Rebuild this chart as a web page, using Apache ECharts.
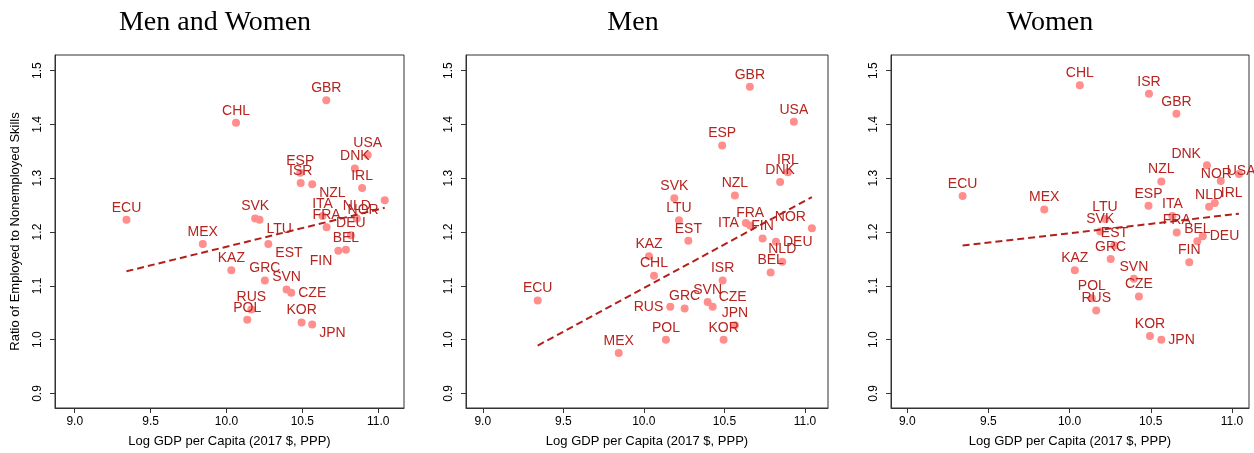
<!DOCTYPE html>
<html lang="en">
<head>
<meta charset="UTF-8">
<title>Employed vs Nonemployed Skills</title>
<script src="https://cdn.jsdelivr.net/npm/echarts@6/dist/echarts.min.js"></script>
</head>
<body style="margin:0;">
<div id="chart" style="width:1254px;height:453px;"></div>
<script>
// country codes and log GDP per capita (shared by all panels)
var countries = ['ECU','MEX','KAZ','CHL','POL','RUS','SVK','LTU','GRC','EST','SVN','CZE','ESP','ISR',
                 'KOR','NZL','JPN','ITA','FRA','GBR','FIN','BEL','DEU','DNK','NLD','IRL','USA','NOR'];
var logGdp = [9.341, 9.844, 10.032, 10.063, 10.137, 10.164, 10.189, 10.218, 10.253, 10.276, 10.396, 10.427, 10.486, 10.489,
              10.495, 10.565, 10.565, 10.633, 10.66, 10.658, 10.737, 10.787, 10.82, 10.846, 10.859, 10.894, 10.931, 11.043];

// ratio of employed to nonemployed skills
var ratioAll = [1.223, 1.178, 1.129, 1.403, 1.037, 1.056, 1.225, 1.223, 1.110, 1.178, 1.093, 1.087, 1.310, 1.291,
                1.032, 1.289, 1.028, 1.230, 1.209, 1.445, 1.165, 1.167, 1.194, 1.318, 1.225, 1.282, 1.343, 1.259];
var ratioMen = [1.073, 0.975, 1.155, 1.119, 1.000, 1.061, 1.263, 1.222, 1.058, 1.184, 1.070, 1.061, 1.361, 1.110,
                1.000, 1.268, 1.027, 1.217, 1.212, 1.470, 1.188, 1.125, 1.182, 1.293, 1.145, 1.311, 1.405, 1.207];
var ratioWomen = [1.267, 1.242, 1.129, 1.473, 1.077, 1.054, 1.201, 1.224, 1.150, 1.175, 1.113, 1.080, 1.249, 1.457,
                  1.007, 1.294, 1.000, 1.230, 1.199, 1.420, 1.144, 1.183, 1.192, 1.324, 1.247, 1.254, 1.295, 1.308];

// linear fit end points
var fitX = [9.341, 11.043];
var fitAll = [1.127, 1.245];
var fitMen = [0.989, 1.265];
var fitWomen = [1.175, 1.234];

var panelTitles = ['Men and Women', 'Men', 'Women'];
var xTicks = [9.0, 9.5, 10.0, 10.5, 11.0];
var yTicks = [0.9, 1.0, 1.1, 1.2, 1.3, 1.4, 1.5];

// label placement (default above the marker)
var labelPos = [
    {NZL: 'r4', LTU: 'r4', EST: 'r4', JPN: 'r4', CZE: 'r', NOR: 'l8', FIN: 'l8'},
    {ITA: 'l', NOR: 'l10', DEU: 'r', RUS: 'l', CZE: 'r2'},
    {DNK: 'l10', NOR: 'l', USA: 'r2', IRL: 'r2', DEU: 'r', JPN: 'r'}
];

var gridLeft = [55, 466, 891];
var gridWidth = [349, 362, 358];
var xRange = [[8.87, 11.17], [8.896, 11.143], [8.90, 11.105]];
var titleCenter = [210, 628, 1045];

var dotColor = '#FF8E8C';
var labColor = '#B5241F';
var lineColor = '#B3201C';

function labelFor(code) {
    var base = {show: true, formatter: '{b}', color: labColor, fontSize: 14, fontFamily: 'Liberation Sans'};
    if (!code) return Object.assign(base, {position: 'top', distance: 1});
    if (code === 'r') return Object.assign(base, {position: 'right', distance: 3});
    if (code === 'r4') return Object.assign(base, {position: 'right', distance: 3, offset: [0, 9]});
    if (code === 'r2') return Object.assign(base, {position: 'right', distance: 2, offset: [0, -10]});
    if (code === 'l') return Object.assign(base, {position: 'left', distance: 3});
    if (code === 'l8') return Object.assign(base, {position: 'left', distance: 2, offset: [0, 10]});
    if (code === 'l10') return Object.assign(base, {position: 'left', distance: 2, offset: [0, -11]});
}

var ratios = [ratioAll, ratioMen, ratioWomen];
var fits = [fitAll, fitMen, fitWomen];

var grids = [], xAxes = [], yAxes = [], series = [], titles = [];

for (var p = 0; p < 3; p++) {
    grids.push({left: gridLeft[p], width: gridWidth[p], top: 55, height: 353,
                show: true, borderColor: '#333', borderWidth: 1, backgroundColor: '#fff'});
    titles.push({text: panelTitles[p], left: titleCenter[p], top: 4, textAlign: 'center',
                 textStyle: {fontFamily: 'Liberation Serif', fontSize: 28, fontWeight: 'normal', color: '#000'}});
    xAxes.push({
        type: 'value', gridIndex: p, min: xRange[p][0], max: xRange[p][1],
        name: 'Log GDP per Capita (2017 $, PPP)', nameLocation: 'middle', nameGap: 27,
        nameTextStyle: {fontSize: 13, color: '#000', fontFamily: 'Liberation Sans'},
        axisLine: {show: true, lineStyle: {color: '#333', width: 1}},
        axisTick: {show: true, length: 5, customValues: xTicks, lineStyle: {color: '#333'}},
        axisLabel: {customValues: xTicks, margin: 8, fontSize: 12, color: '#000', fontFamily: 'Liberation Sans',
                    formatter: function (v) { return v.toFixed(1); }},
        splitLine: {show: false}
    });
    yAxes.push({
        type: 'value', gridIndex: p, min: 0.873, max: 1.529,
        name: p === 0 ? 'Ratio of Employed to Nonemployed Skills' : '',
        nameLocation: 'middle', nameGap: 33,
        nameTextStyle: {fontSize: 13, color: '#000', fontFamily: 'Liberation Sans'},
        axisLine: {show: true, lineStyle: {color: '#333', width: 1}},
        axisTick: {show: true, length: 5, customValues: yTicks, lineStyle: {color: '#333'}},
        axisLabel: {customValues: yTicks, rotate: 90, margin: 11, fontSize: 12, color: '#000', fontFamily: 'Liberation Sans',
                    formatter: function (v) { return v.toFixed(1); }},
        splitLine: {show: false}
    });

    var pts = countries.map(function (c, i) {
        return {name: c, value: [logGdp[i], ratios[p][i]], label: labelFor(labelPos[p][c])};
    });
    series.push({
        type: 'scatter', xAxisIndex: p, yAxisIndex: p, symbolSize: 8,
        itemStyle: {color: dotColor, opacity: 1},
        data: pts, z: 2, silent: true
    });
    series.push({
        type: 'line', xAxisIndex: p, yAxisIndex: p, symbol: 'none', z: 3, silent: true,
        lineStyle: {color: lineColor, width: 2, type: [7, 4]},
        data: fitX.map(function (x, i) { return [x, fits[p][i]]; })
    });
}

var chart = echarts.init(document.getElementById('chart'));
chart.setOption({
    animation: false,
    backgroundColor: '#fff',
    title: titles,
    grid: grids,
    xAxis: xAxes,
    yAxis: yAxes,
    series: series
});
</script>
</body>
</html>
